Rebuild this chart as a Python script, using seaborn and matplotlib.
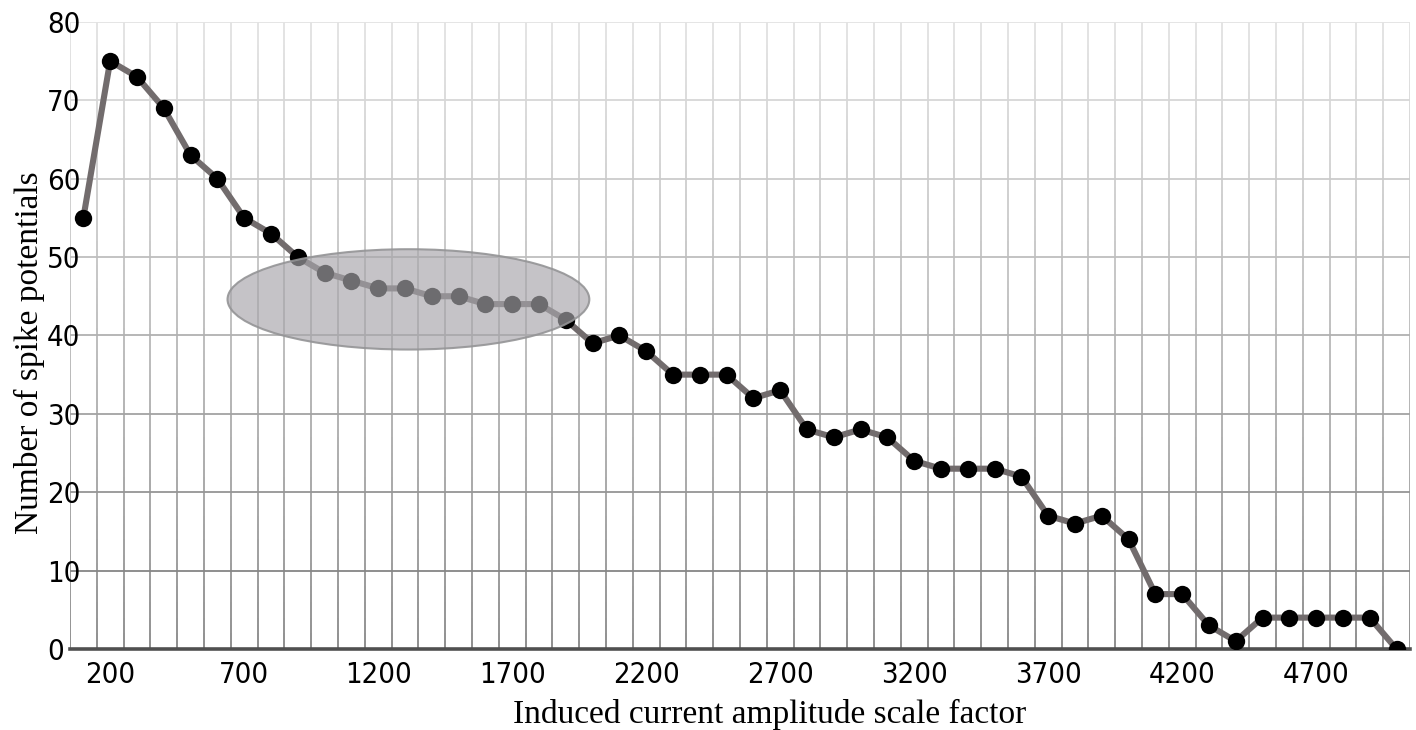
import numpy as np
import pandas as pd
import matplotlib
matplotlib.use("Agg")
import matplotlib.pyplot as plt
from matplotlib.patches import Ellipse
from matplotlib.collections import LineCollection
import seaborn as sns

# Induced current amplitude scale factor (x) and spike counts (y)
scale_factor = list(range(100, 5001, 100))
spike_count = [55, 75, 73, 69, 63, 60, 55, 53, 50, 48,
               47, 46, 46, 45, 45, 44, 44, 44, 42, 39,
               40, 38, 35, 35, 35, 32, 33, 28, 27, 28,
               27, 24, 23, 23, 23, 22, 17, 16, 17, 14,
               7, 7, 3, 1, 4, 4, 4, 4, 4, 0]
x_ticks = [200, 700, 1200, 1700, 2200, 2700, 3200, 3700, 4200, 4700]
y_ticks = [0, 10, 20, 30, 40, 50, 60, 70, 80]

df = pd.DataFrame({"scale": scale_factor, "spikes": spike_count})

sns.set_theme(style="white")
plt.rcParams["font.family"] = ["DejaVu Sans"]

fig = plt.figure(figsize=(14.16, 7.30), dpi=100)
ax = fig.add_axes([0.0494, 0.111, 0.9463, 0.859])
ax.set_axisbelow(False)

xmin, xmax = 50, 5050
ymin, ymax = 0, 80


def grid_shade(y, base):
    """Grey level of a grid line at height y: darker near the bottom."""
    t = (y - ymin) / (ymax - ymin)
    light = 0.89
    g = base + (light - base) * t ** 0.85
    return (g, g, g, 1.0)


# vertical grid lines between samples, shaded along their length
n_seg = 80
ys = np.linspace(ymin, ymax, n_seg + 1)
segs, cols = [], []
for xv in np.arange(xmin, xmax + 1, 100):
    for y0, y1 in zip(ys[:-1], ys[1:]):
        segs.append([(xv, y0), (xv, y1)])
        cols.append(grid_shade((y0 + y1) / 2, 0.52))
ax.add_collection(LineCollection(segs, colors=cols, linewidths=1.3,
                                 zorder=0.6, capstyle="butt"))

# horizontal grid lines at the y ticks
hsegs = [[(xmin, yv), (xmax, yv)] for yv in y_ticks[1:]]
hcols = [grid_shade(yv, 0.45) for yv in y_ticks[1:]]
ax.add_collection(LineCollection(hsegs, colors=hcols, linewidths=1.3,
                                 zorder=0.7))

sns.lineplot(data=df, x="scale", y="spikes", ax=ax, color="#726c6d",
             linewidth=4.4, marker="o", markersize=12.5,
             markerfacecolor="black", markeredgecolor="black",
             markeredgewidth=0, zorder=2)

# highlighted plateau region
ax.add_patch(Ellipse((1313, 44.6), width=1350, height=12.8,
                     facecolor=(0.655, 0.647, 0.667, 0.66),
                     edgecolor=(0.58, 0.58, 0.59, 0.9),
                     linewidth=1.5, zorder=3))

ax.set_xlim(xmin, xmax)
ax.set_ylim(ymin, ymax)
ax.set_yticks(y_ticks)
ax.set_xticks(x_ticks)
ax.grid(False)

for side in ["top", "right", "left"]:
    ax.spines[side].set_visible(False)
ax.spines["bottom"].set_color("#505050")
ax.spines["bottom"].set_linewidth(2.6)
ax.spines["bottom"].set_zorder(1.5)

ax.tick_params(axis="both", which="both", length=0)
ax.tick_params(axis="x", pad=9, labelcolor="black")
ax.tick_params(axis="y", pad=16.5, labelcolor="black")
for lab in ax.get_xticklabels() + ax.get_yticklabels():
    lab.set_fontsize(21)
    lab.set_fontstretch("condensed")
for lab in ax.get_yticklabels():
    lab.set_horizontalalignment("left")

label_font = dict(family="Liberation Serif", fontsize=24, color="black")
ax.set_xlabel("Induced current amplitude scale factor", **label_font)
ax.set_ylabel("Number of spike potentials", **label_font)
ax.xaxis.set_label_coords(0.522, -0.080)
ax.yaxis.set_label_coords(-0.0187, 0.472)

fig.savefig("out.png", dpi=100, facecolor="white")
